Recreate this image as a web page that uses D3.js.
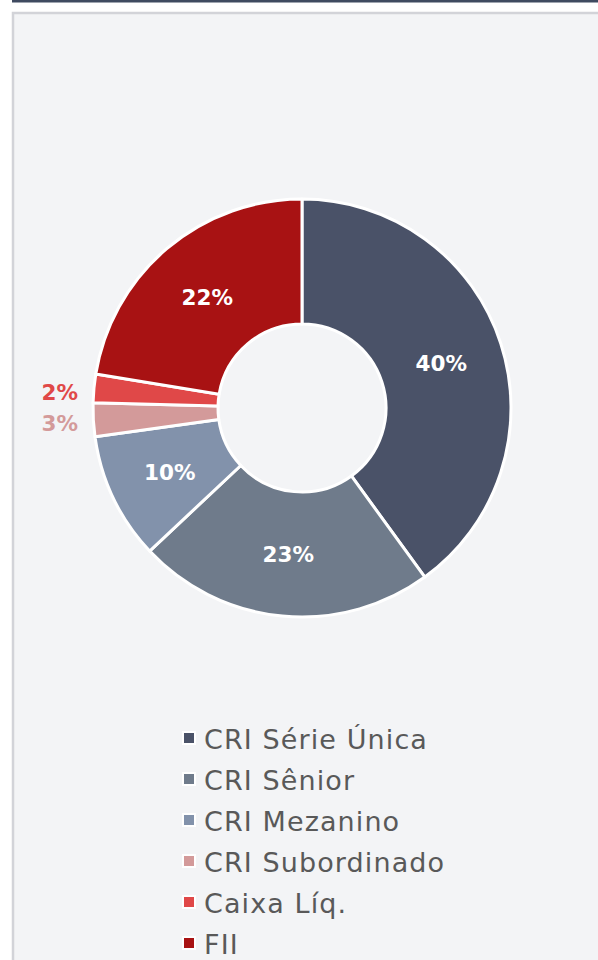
<!DOCTYPE html>
<html>
<head>
<meta charset="utf-8">
<script src="https://cdn.jsdelivr.net/npm/d3@7"></script>
<style>
  html, body { margin: 0; padding: 0; background: #ffffff; }
  svg { display: block; }
</style>
</head>
<body>
<svg id="chart" width="598" height="960"></svg>
<script>
const categories = ["CRI Série Única", "CRI Sênior", "CRI Mezanino", "CRI Subordinado", "Caixa Líq.", "FII"];
const values = [40.0, 23.0, 9.8, 2.6, 2.2, 22.4];
const colors = ["#4a5268", "#6f7b8b", "#8292ab", "#d39a9a", "#e04848", "#a81213"];
const outsideLabels = ["CRI Subordinado", "Caixa Líq."];

const W = 598, H = 960;
const svg = d3.select("#chart");

// top rule and panel
svg.append("rect").attr("x", 12).attr("y", 0).attr("width", W - 12).attr("height", 2.5).attr("fill", "#3f4a60");
svg.append("rect").attr("x", 13).attr("y", 13).attr("width", W).attr("height", H)
  .attr("fill", "#f3f4f6").attr("stroke", "#d2d3d8").attr("stroke-width", 2.5);

const cx = 302, cy = 408, R = 209, r = 84;
const data = categories.map((c, i) => ({ name: c, value: values[i], color: colors[i] }));

const pie = d3.pie().value(d => d.value).sort(null);
const arcs = pie(data);
const arc = d3.arc().innerRadius(r).outerRadius(R);

const g = svg.append("g").attr("transform", `translate(${cx},${cy})`);
g.selectAll("path.slice").data(arcs).enter().append("path")
  .attr("class", "slice")
  .attr("d", arc)
  .attr("fill", d => d.data.color)
  .attr("stroke", "#ffffff")
  .attr("stroke-width", 3)
  .attr("stroke-linejoin", "round");

const fmt = v => Math.round(v) + "%";
const labelFont = "'DejaVu Sans', sans-serif";

// inside labels
g.selectAll("text.in").data(arcs.filter(d => !outsideLabels.includes(d.data.name))).enter().append("text")
  .attr("class", "in")
  .attr("x", d => arc.centroid(d)[0])
  .attr("y", d => arc.centroid(d)[1] + 1)
  .attr("text-anchor", "middle")
  .attr("dominant-baseline", "central")
  .attr("font-family", labelFont)
  .attr("font-weight", "bold")
  .attr("font-size", 21.5)
  .attr("fill", "#ffffff")
  .text(d => fmt(d.data.value));

// outside labels (spread vertically)
const outArcs = arcs.filter(d => outsideLabels.includes(d.data.name));
const outR = R + 30;
const outPos = outArcs.map(d => {
  const a = (d.startAngle + d.endAngle) / 2;
  return { d, y: -Math.cos(a) * outR };
}).sort((a, b) => a.y - b.y);
const meanY = d3.mean(outPos, p => p.y);
const gap = 31;
outPos.forEach((p, i) => { p.y = meanY + (i - (outPos.length - 1) / 2) * gap + 4; });

g.selectAll("text.out").data(outPos).enter().append("text")
  .attr("class", "out")
  .attr("x", -(R + 15))
  .attr("y", p => p.y)
  .attr("text-anchor", "end")
  .attr("dominant-baseline", "central")
  .attr("font-family", labelFont)
  .attr("font-weight", "bold")
  .attr("font-size", 21.5)
  .attr("fill", p => p.d.data.color)
  .text(p => fmt(p.d.data.value));

// legend
const legY0 = 738, legStep = 41;
const leg = svg.append("g");
const items = leg.selectAll("g").data(data).enter().append("g")
  .attr("transform", (d, i) => `translate(183,${legY0 + i * legStep})`);
items.append("rect")
  .attr("x", 0).attr("y", -6).attr("width", 12).attr("height", 12)
  .attr("fill", d => d.color)
  .attr("stroke", "#ffffff").attr("stroke-width", 2);
items.append("text")
  .attr("x", 21).attr("y", 1)
  .attr("dominant-baseline", "central")
  .attr("font-family", labelFont)
  .attr("font-size", 27)
  .attr("letter-spacing", 1.1)
  .attr("fill", "#595959")
  .text(d => d.name);
</script>
</body>
</html>
